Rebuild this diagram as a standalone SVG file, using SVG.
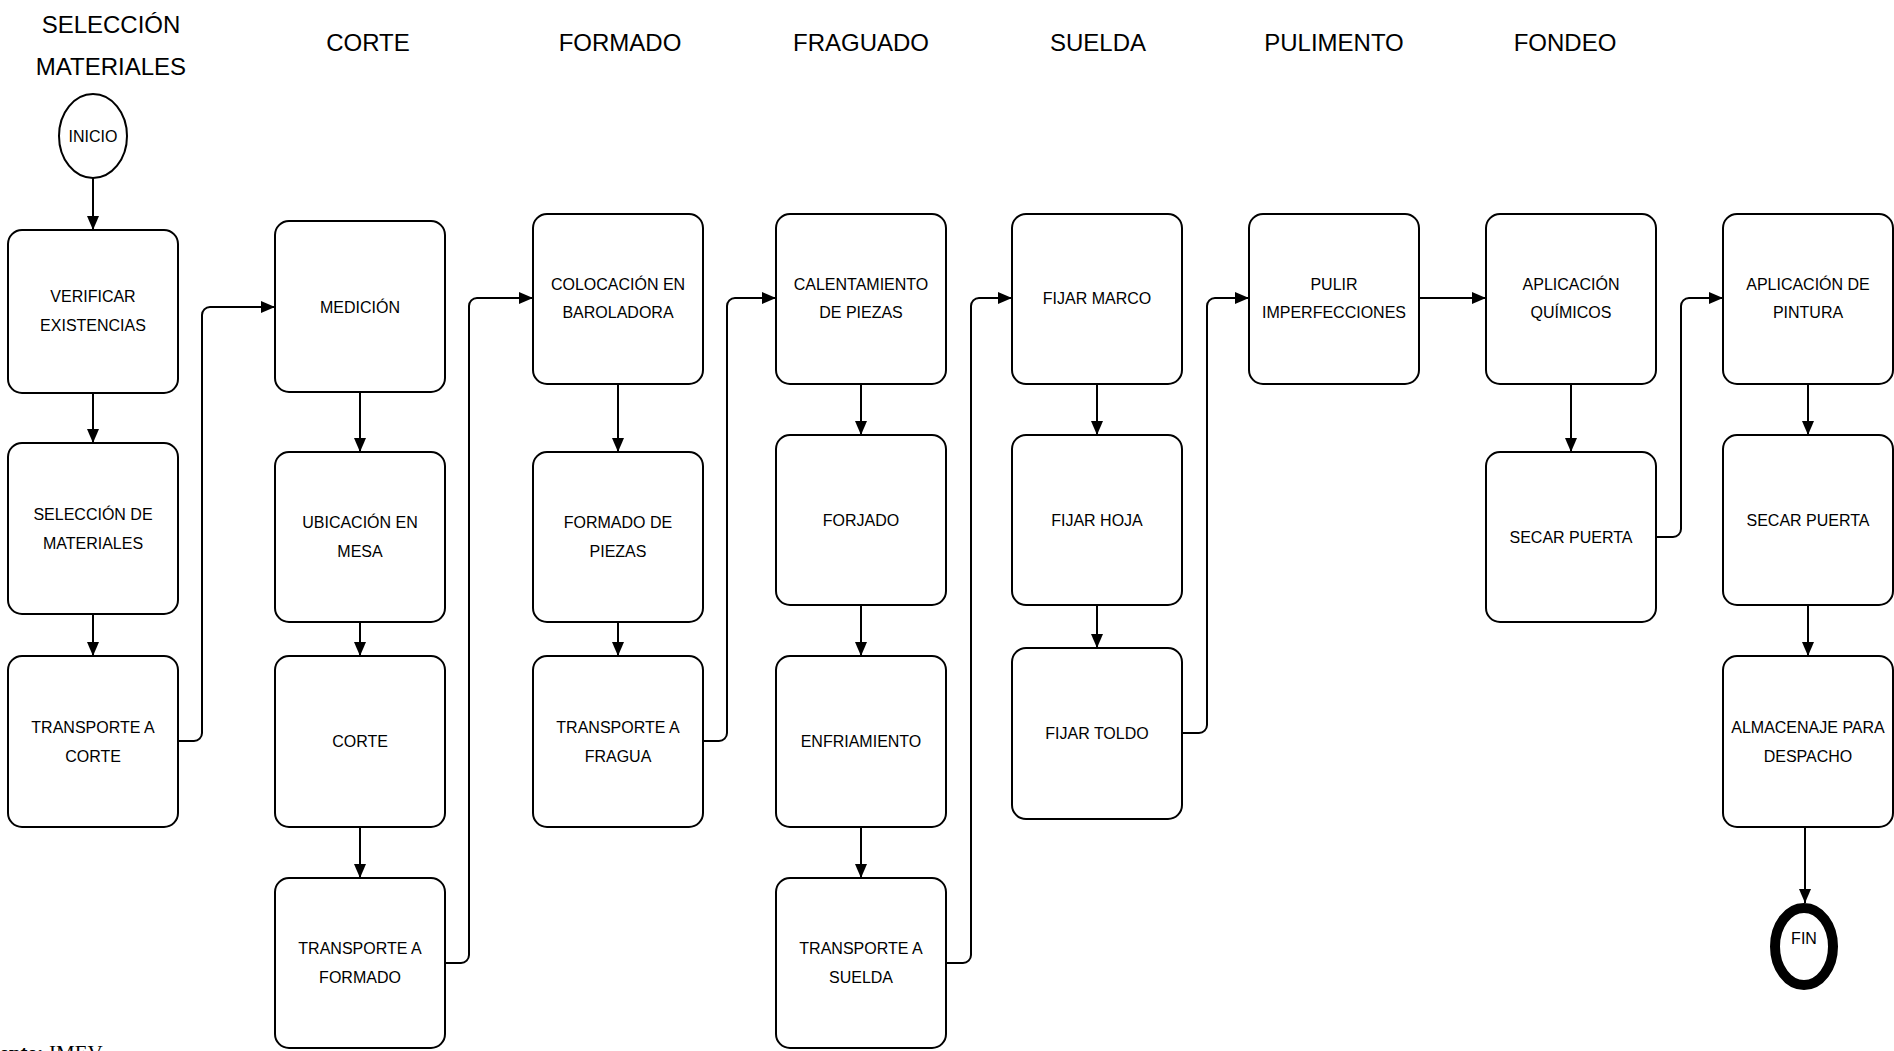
<svg xmlns="http://www.w3.org/2000/svg" width="1894" height="1051" viewBox="0 0 1894 1051">
<defs>
<style>
.box{fill:#fff;stroke:#000;stroke-width:2}
.lbl{font-family:"Liberation Sans",Arial,sans-serif;font-size:16px;text-anchor:middle;fill:#000}
.title{font-family:"Liberation Sans",Arial,sans-serif;font-size:24px;text-anchor:middle;fill:#000}
.conn{fill:none;stroke:#000;stroke-width:2;marker-end:url(#arr)}
</style>
<marker id="arr" markerUnits="userSpaceOnUse" markerWidth="14" markerHeight="12" viewBox="0 0 14 12" refX="14" refY="6" orient="auto">
<path d="M0,0 L14,6 L0,12 z" fill="#000"/>
</marker>
</defs>
<rect width="1894" height="1051" fill="#fff"/>

<g id="titles">
<text class="title" x="111" y="33">SELECCIÓN</text>
<text class="title" x="111" y="75">MATERIALES</text>
<text class="title" x="368" y="51">CORTE</text>
<text class="title" x="620" y="51">FORMADO</text>
<text class="title" x="861" y="51">FRAGUADO</text>
<text class="title" x="1098" y="51">SUELDA</text>
<text class="title" x="1334" y="51">PULIMENTO</text>
<text class="title" x="1565" y="51">FONDEO</text>
</g>

<g id="connectors">
<path class="conn" d="M93,178 V230"/>
<path class="conn" d="M93,393 V443"/>
<path class="conn" d="M93,614 V656"/>
<path class="conn" d="M360,392 V452"/>
<path class="conn" d="M360,622 V656"/>
<path class="conn" d="M360,827 V878"/>
<path class="conn" d="M618,384 V452"/>
<path class="conn" d="M618,622 V656"/>
<path class="conn" d="M861,384 V435"/>
<path class="conn" d="M861,605 V656"/>
<path class="conn" d="M861,827 V878"/>
<path class="conn" d="M1097,384 V435"/>
<path class="conn" d="M1097,605 V648"/>
<path class="conn" d="M1571,384 V452"/>
<path class="conn" d="M1808,384 V435"/>
<path class="conn" d="M1808,605 V656"/>
<path class="conn" d="M1805,827 V903"/>
<path class="conn" d="M178,741 H194 A8,8 0 0 0 202,733 V315 A8,8 0 0 1 210,307 H275"/>
<path class="conn" d="M445,963 H461 A8,8 0 0 0 469,955 V306 A8,8 0 0 1 477,298 H533"/>
<path class="conn" d="M703,741 H719 A8,8 0 0 0 727,733 V306 A8,8 0 0 1 735,298 H776"/>
<path class="conn" d="M946,963 H963 A8,8 0 0 0 971,955 V306 A8,8 0 0 1 979,298 H1012"/>
<path class="conn" d="M1182,733 H1199 A8,8 0 0 0 1207,725 V306 A8,8 0 0 1 1215,298 H1249"/>
<path class="conn" d="M1419,298 H1486"/>
<path class="conn" d="M1656,537 H1673 A8,8 0 0 0 1681,529 V306 A8,8 0 0 1 1689,298 H1723"/>
</g>

<g id="inicio">
<ellipse class="box" cx="93" cy="136" rx="34" ry="42"/>
<text class="lbl" x="93" y="142">INICIO</text>
</g>

<g id="verificar">
<rect class="box" x="8" y="230" width="170" height="163" rx="14"/>
<text class="lbl" x="93" y="302">VERIFICAR</text>
<text class="lbl" x="93" y="331">EXISTENCIAS</text>
</g>
<g id="seleccion">
<rect class="box" x="8" y="443" width="170" height="171" rx="14"/>
<text class="lbl" x="93" y="520">SELECCIÓN DE</text>
<text class="lbl" x="93" y="549">MATERIALES</text>
</g>
<g id="transp-corte">
<rect class="box" x="8" y="656" width="170" height="171" rx="14"/>
<text class="lbl" x="93" y="733">TRANSPORTE A</text>
<text class="lbl" x="93" y="762">CORTE</text>
</g>

<g id="medicion">
<rect class="box" x="275" y="221" width="170" height="171" rx="14"/>
<text class="lbl" x="360" y="313">MEDICIÓN</text>
</g>
<g id="ubicacion">
<rect class="box" x="275" y="452" width="170" height="170" rx="14"/>
<text class="lbl" x="360" y="528">UBICACIÓN EN</text>
<text class="lbl" x="360" y="557">MESA</text>
</g>
<g id="corte">
<rect class="box" x="275" y="656" width="170" height="171" rx="14"/>
<text class="lbl" x="360" y="747">CORTE</text>
</g>
<g id="transp-formado">
<rect class="box" x="275" y="878" width="170" height="170" rx="14"/>
<text class="lbl" x="360" y="954">TRANSPORTE A</text>
<text class="lbl" x="360" y="983">FORMADO</text>
</g>

<g id="colocacion">
<rect class="box" x="533" y="214" width="170" height="170" rx="14"/>
<text class="lbl" x="618" y="290">COLOCACIÓN EN</text>
<text class="lbl" x="618" y="318">BAROLADORA</text>
</g>
<g id="formado-piezas">
<rect class="box" x="533" y="452" width="170" height="170" rx="14"/>
<text class="lbl" x="618" y="528">FORMADO DE</text>
<text class="lbl" x="618" y="557">PIEZAS</text>
</g>
<g id="transp-fragua">
<rect class="box" x="533" y="656" width="170" height="171" rx="14"/>
<text class="lbl" x="618" y="733">TRANSPORTE A</text>
<text class="lbl" x="618" y="762">FRAGUA</text>
</g>

<g id="calentamiento">
<rect class="box" x="776" y="214" width="170" height="170" rx="14"/>
<text class="lbl" x="861" y="290">CALENTAMIENTO</text>
<text class="lbl" x="861" y="318">DE PIEZAS</text>
</g>
<g id="forjado">
<rect class="box" x="776" y="435" width="170" height="170" rx="14"/>
<text class="lbl" x="861" y="526">FORJADO</text>
</g>
<g id="enfriamiento">
<rect class="box" x="776" y="656" width="170" height="171" rx="14"/>
<text class="lbl" x="861" y="747">ENFRIAMIENTO</text>
</g>
<g id="transp-suelda">
<rect class="box" x="776" y="878" width="170" height="170" rx="14"/>
<text class="lbl" x="861" y="954">TRANSPORTE A</text>
<text class="lbl" x="861" y="983">SUELDA</text>
</g>

<g id="fijar-marco">
<rect class="box" x="1012" y="214" width="170" height="170" rx="14"/>
<text class="lbl" x="1097" y="304">FIJAR MARCO</text>
</g>
<g id="fijar-hoja">
<rect class="box" x="1012" y="435" width="170" height="170" rx="14"/>
<text class="lbl" x="1097" y="526">FIJAR HOJA</text>
</g>
<g id="fijar-toldo">
<rect class="box" x="1012" y="648" width="170" height="171" rx="14"/>
<text class="lbl" x="1097" y="739">FIJAR TOLDO</text>
</g>

<g id="pulir">
<rect class="box" x="1249" y="214" width="170" height="170" rx="14"/>
<text class="lbl" x="1334" y="290">PULIR</text>
<text class="lbl" x="1334" y="318">IMPERFECCIONES</text>
</g>

<g id="aplic-quimicos">
<rect class="box" x="1486" y="214" width="170" height="170" rx="14"/>
<text class="lbl" x="1571" y="290">APLICACIÓN</text>
<text class="lbl" x="1571" y="318">QUÍMICOS</text>
</g>
<g id="secar-1">
<rect class="box" x="1486" y="452" width="170" height="170" rx="14"/>
<text class="lbl" x="1571" y="543">SECAR PUERTA</text>
</g>

<g id="aplic-pintura">
<rect class="box" x="1723" y="214" width="170" height="170" rx="14"/>
<text class="lbl" x="1808" y="290">APLICACIÓN DE</text>
<text class="lbl" x="1808" y="318">PINTURA</text>
</g>
<g id="secar-2">
<rect class="box" x="1723" y="435" width="170" height="170" rx="14"/>
<text class="lbl" x="1808" y="526">SECAR PUERTA</text>
</g>
<g id="almacenaje">
<rect class="box" x="1723" y="656" width="170" height="171" rx="14"/>
<text class="lbl" x="1808" y="733">ALMACENAJE PARA</text>
<text class="lbl" x="1808" y="762">DESPACHO</text>
</g>
<g id="fin">
<ellipse cx="1804" cy="946.5" rx="29" ry="38.5" fill="#fff" stroke="#000" stroke-width="10"/>
<text class="lbl" x="1804" y="944">FIN</text>
</g>

<g id="fuente">
<text x="-25" y="1060" font-family="'Liberation Serif','Times New Roman',serif" font-size="21" fill="#000"><tspan font-weight="bold">Fuente:</tspan> IMEV</text>
</g>
</svg>
